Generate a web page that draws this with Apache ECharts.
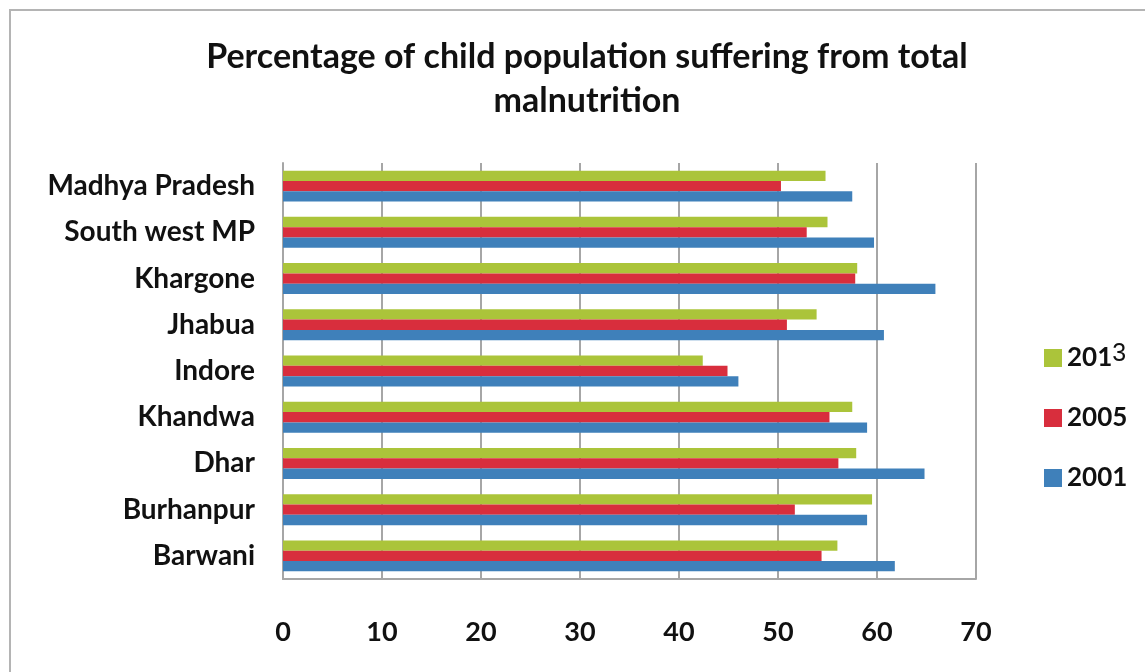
<!DOCTYPE html>
<html>
<head>
<meta charset="utf-8">
<script src="https://cdn.jsdelivr.net/npm/echarts@6/dist/echarts.min.js"></script>
<style>
  html, body { margin: 0; padding: 0; background: #ffffff; }
  #chart { width: 1145px; height: 672px; }
</style>
</head>
<body>
<div id="chart"></div>
<script>
// Districts, listed bottom to top as they appear on the category axis
const districts = ['Barwani', 'Burhanpur', 'Dhar', 'Khandwa', 'Indore', 'Jhabua', 'Khargone', 'South west MP', 'Madhya Pradesh'];

// Percentage of children suffering from total malnutrition
const values2001 = [61.8, 59.0, 64.8, 59.0, 46.0, 60.7, 65.9, 59.7, 57.5];
const values2005 = [54.4, 51.7, 56.1, 55.2, 44.9, 50.9, 57.8, 52.9, 50.3];
const values2013 = [56.0, 59.5, 57.9, 57.5, 42.4, 53.9, 58.0, 55.0, 54.8];

const xTicks = [0, 10, 20, 30, 40, 50, 60, 70];
const legendOrder = ['2013', '2005', '2001'];

const FONT = 'Lato, "Open Sans", sans-serif';

const chart = echarts.init(document.getElementById('chart'), null, { renderer: 'canvas' });

chart.setOption({
  backgroundColor: '#ffffff',
  animation: false,
  title: {
    text: 'Percentage of child population suffering from total\nmalnutrition',
    left: 582,
    textAlign: 'center',
    top: 30,
    textStyle: {
      fontFamily: FONT,
      fontWeight: 'bold',
      fontSize: 34,
      lineHeight: 44,
      color: '#111111'
    }
  },
  graphic: [{
    type: 'rect',
    shape: { x: 10, y: 10, width: 1200, height: 700 },
    style: { fill: 'none', stroke: '#b4b4b4', lineWidth: 2 },
    silent: true,
    z: -1
  }],
  legend: {
    orient: 'vertical',
    left: 1039,
    top: 337,
    data: legendOrder,
    itemWidth: 18,
    itemHeight: 18,
    itemGap: 34,
    icon: 'rect',
    formatter: function (name) {
      return name === '2013' ? '{a|201}{b|3}' : '{a|' + name + '}';
    },
    textStyle: {
      fontFamily: FONT,
      fontWeight: 'bold',
      fontSize: 26,
      lineHeight: 22,
      color: '#111111',
      rich: {
        a: { fontFamily: FONT, fontWeight: 'bold', fontSize: 26, color: '#111111' },
        b: { fontFamily: '"Liberation Sans", Arial, sans-serif', fontWeight: 'normal', fontSize: 25, color: '#111111', padding: [0, 0, 7, 0] }
      }
    }
  },
  grid: {
    left: 283,
    right: 169,
    top: 163,
    bottom: 93,
    containLabel: false
  },
  xAxis: {
    type: 'value',
    min: xTicks[0],
    max: xTicks[xTicks.length - 1],
    interval: 10,
    axisLine: { show: true, lineStyle: { color: '#a6a6a6', width: 2 } },
    axisTick: { show: false },
    splitLine: { show: true, lineStyle: { color: '#a6a6a6', width: 2 } },
    axisLabel: {
      margin: 40,
      fontFamily: FONT,
      fontWeight: 'bold',
      fontSize: 27,
      color: '#111111'
    }
  },
  yAxis: {
    type: 'category',
    data: districts,
    axisLine: { show: true, lineStyle: { color: '#a6a6a6', width: 2 } },
    axisTick: { show: false },
    splitLine: { show: false },
    axisLabel: {
      margin: 28,
      fontFamily: FONT,
      fontWeight: 'bold',
      fontSize: 28,
      color: '#111111'
    }
  },
  // Within each group the first series sits at the top
  series: [
    {
      name: '2013', type: 'bar', data: values2013,
      itemStyle: { color: '#abc43a' },
      barGap: '0%', barCategoryGap: '33%'
    },
    {
      name: '2005', type: 'bar', data: values2005,
      itemStyle: { color: '#d82e3d' },
      barGap: '0%', barCategoryGap: '33%'
    },
    {
      name: '2001', type: 'bar', data: values2001,
      itemStyle: { color: '#3f80ba' },
      barGap: '0%', barCategoryGap: '33%'
    }
  ]
});
</script>
</body>
</html>
